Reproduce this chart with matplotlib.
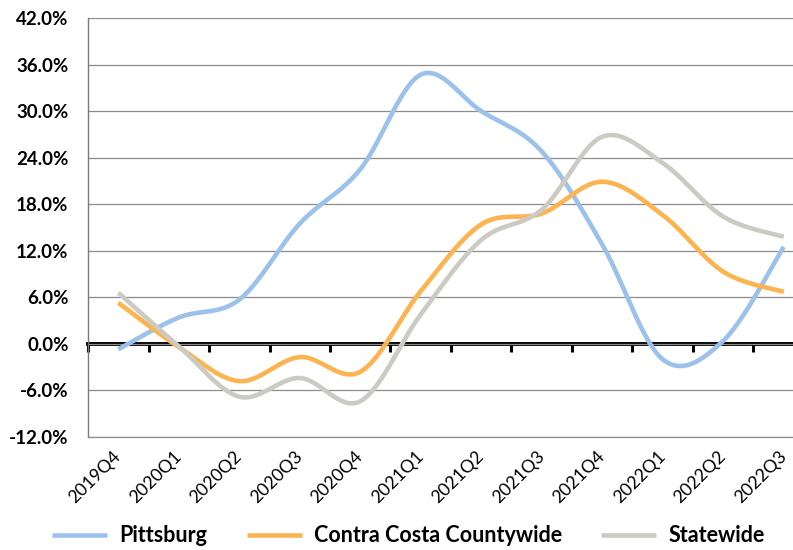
import numpy as np
import matplotlib
matplotlib.use('Agg')
import matplotlib.pyplot as plt
from matplotlib.ticker import FuncFormatter

# quarters and yoy change (%)
quarters = ['2019Q4', '2020Q1', '2020Q2', '2020Q3', '2020Q4', '2021Q1',
            '2021Q2', '2021Q3', '2021Q4', '2022Q1', '2022Q2', '2022Q3']
pittsburg = [-0.7, 3.4, 5.7, 15.5, 22.5, 34.7, 30.0, 24.8, 12.8, -2.0, 0.4, 12.5]
contra_costa = [5.3, -0.4, -4.8, -1.7, -3.6, 6.8, 15.4, 16.8, 20.9, 16.6, 9.3, 6.7]
statewide = [6.6, -0.3, -6.8, -4.4, -7.4, 3.8, 13.4, 17.3, 26.7, 23.3, 16.4, 13.8]

y_ticks = [-12, -6, 0, 6, 12, 18, 24, 30, 36, 42]

plt.rcParams['font.family'] = ['Lato', 'DejaVu Sans']


# Excel-like smoothed line (bezier through each point)
def smooth(x, y, n=30):
    x = np.asarray(x, float)
    y = np.asarray(y, float)
    px = np.concatenate([[x[0]], x, [x[-1]]])
    py = np.concatenate([[y[0]], y, [y[-1]]])
    xs, ys = [], []
    t = np.linspace(0, 1, n)
    for i in range(1, len(px) - 2):
        p0 = np.array([px[i], py[i]])
        p3 = np.array([px[i + 1], py[i + 1]])
        p1 = p0 + (np.array([px[i + 1], py[i + 1]]) - np.array([px[i - 1], py[i - 1]])) / 6
        p2 = p3 - (np.array([px[i + 2], py[i + 2]]) - np.array([px[i], py[i]])) / 6
        b = ((1 - t) ** 3)[:, None] * p0 + (3 * (1 - t) ** 2 * t)[:, None] * p1 \
            + (3 * (1 - t) * t ** 2)[:, None] * p2 + (t ** 3)[:, None] * p3
        xs.extend(b[:, 0])
        ys.extend(b[:, 1])
    return xs, ys


fig = plt.figure(figsize=(7.93, 5.5), dpi=100)
ax = fig.add_axes([88 / 793, 1 - 437 / 550, 726 / 793, 419 / 550])

x = np.arange(len(quarters))
series = [('Pittsburg', pittsburg, '#9cc2ec'),
          ('Contra Costa Countywide', contra_costa, '#fbb44f'),
          ('Statewide', statewide, '#cbcbc3')]
for name, vals, col in series:
    sx, sy = smooth(x, vals)
    ax.plot(sx, sy, color=col, lw=3.3, label=name, solid_capstyle='butt', zorder=3)

ax.set_xlim(-0.5, len(quarters) - 0.5)
ax.set_ylim(-12, 42)
ax.set_yticks(y_ticks)
ax.yaxis.set_major_formatter(FuncFormatter(lambda v, p: f'{v:.1f}%'))
ax.grid(axis='y', color='#8c8c8c', lw=0.9)
ax.set_axisbelow(True)
ax.tick_params(axis='y', direction='out', length=0, pad=14, labelsize=13.5)
for lab in ax.get_yticklabels():
    lab.set_fontweight('bold')

ax.set_xticks(x)
ax.set_xticklabels(quarters, rotation=45, ha='right', va='center',
                   rotation_mode='anchor', fontsize=12.8)
ax.tick_params(axis='x', length=0, pad=12)

for s in ['top', 'right']:
    ax.spines[s].set_visible(False)
ax.spines['left'].set_color('#7a7a7a')
ax.spines['left'].set_linewidth(1.0)
ax.spines['bottom'].set_color('#8c8c8c')
ax.spines['bottom'].set_linewidth(0.9)

# the category axis crosses at zero
zero_ax = ax.secondary_xaxis(12 / 54)
zero_ax.set_xticks(np.arange(-0.5, len(quarters), 1.0))
zero_ax.set_xticklabels([])
zero_ax.spines['bottom'].set_linewidth(2.8)
zero_ax.spines['bottom'].set_color('black')
zero_ax.tick_params(direction='out', length=6, width=2.2, color='black')

fig.legend(loc='center', bbox_to_anchor=(0.515, 0.026), ncol=3, frameon=False,
           prop={'weight': 'bold', 'size': 15.5}, handlelength=2.55,
           columnspacing=1.85, handletextpad=0.55, borderpad=0.2)

fig.savefig('out.png', dpi=100)
